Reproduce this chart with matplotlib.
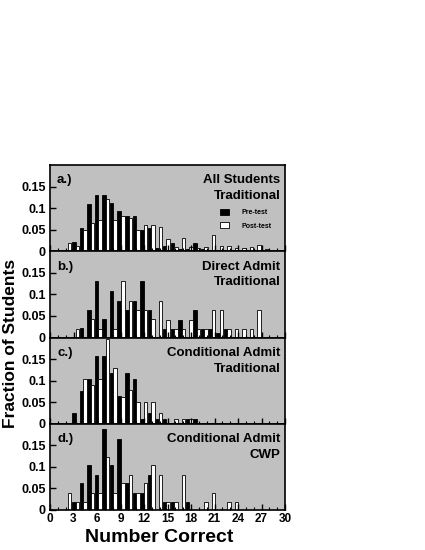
import numpy as np
import matplotlib.pyplot as plt
from matplotlib.ticker import MultipleLocator, FuncFormatter

plt.rcParams['font.family'] = ['Liberation Sans', 'DejaVu Sans']
plt.rcParams['font.weight'] = 'bold'

scores = np.arange(31)

# fraction of students with each number correct (0..30)
pre_a = [0, 0, 0, 0.022, 0.055, 0.11, 0.13, 0.13, 0.113, 0.093, 0.081, 0.081, 0.05, 0.055, 0.008, 0.013,
         0.02, 0.005, 0.005, 0.02, 0.005, 0.003, 0.003, 0, 0.002, 0, 0, 0, 0, 0, 0]
post_a = [0, 0, 0.02, 0.012, 0.05, 0.066, 0.072, 0.12, 0.072, 0.081, 0.077, 0.049, 0.061, 0.06, 0.056, 0.028,
          0.01, 0.03, 0.01, 0.008, 0.01, 0.037, 0.013, 0.012, 0.008, 0.008, 0.01, 0.015, 0.005, 0, 0]

pre_b = [0, 0, 0, 0, 0.021, 0.063, 0.13, 0.042, 0.107, 0.085, 0.063, 0.085, 0.13, 0.063, 0, 0.02,
         0.02, 0.041, 0, 0.063, 0.02, 0.02, 0.01, 0.02, 0, 0, 0, 0, 0, 0, 0]
post_b = [0, 0, 0, 0.02, 0, 0.042, 0.02, 0, 0.02, 0.13, 0.085, 0.063, 0.063, 0.042, 0.085, 0.041,
          0.02, 0.02, 0.041, 0.02, 0.02, 0.063, 0.063, 0.02, 0.02, 0.02, 0.02, 0.063, 0, 0, 0]

pre_c = [0, 0, 0, 0.025, 0.077, 0.104, 0.158, 0.158, 0.118, 0.065, 0.118, 0.104, 0.012, 0.025, 0.012, 0.012,
         0, 0, 0.012, 0.012, 0, 0, 0, 0, 0, 0, 0, 0, 0, 0, 0]
post_c = [0, 0, 0, 0, 0.104, 0.091, 0.104, 0.197, 0.13, 0.063, 0.079, 0.051, 0.051, 0.051, 0.024, 0,
          0.012, 0.012, 0.012, 0, 0, 0, 0, 0, 0, 0, 0, 0, 0, 0, 0]

pre_d = [0, 0, 0, 0.019, 0.062, 0.104, 0.082, 0.187, 0.104, 0.165, 0.062, 0.04, 0.04, 0.082, 0, 0.019,
         0.019, 0, 0.019, 0, 0, 0, 0, 0, 0, 0, 0, 0, 0, 0, 0]
post_d = [0, 0, 0.04, 0.019, 0.019, 0.04, 0.04, 0.123, 0.04, 0.062, 0.082, 0.04, 0.062, 0.104, 0.082, 0.019,
          0.019, 0.082, 0, 0, 0.019, 0.04, 0, 0.019, 0.019, 0, 0, 0, 0, 0, 0]

panels = [
    ('a.)', 'All Students\nTraditional', pre_a, post_a),
    ('b.)', 'Direct Admit\nTraditional', pre_b, post_b),
    ('c.)', 'Conditional Admit\nTraditional', pre_c, post_c),
    ('d.)', 'Conditional Admit\nCWP', pre_d, post_d),
]

fig = plt.figure(figsize=(4.25, 5.5), dpi=100)
W, H = 425.0, 550.0
left, right, top, bottom = 50, 285, 165, 510
ph = (bottom - top) / 4.0

pos = scores * 30 / 31.0
bw = 0.45
yfmt = FuncFormatter(lambda v, p: '0' if abs(v) < 1e-9 else '%g' % v)

for i, (letter, title, pre, post) in enumerate(panels):
    ax = fig.add_axes([left / W, 1 - (top + (i + 1) * ph) / H, (right - left) / W, ph / H])
    ax.set_facecolor('#c0c0c0')
    b1 = ax.bar(pos - 0.095, pre, bw, align='edge', color='black', edgecolor='black', linewidth=0.6)
    b2 = ax.bar(pos + 0.355, post, bw, align='edge', color='white', edgecolor='black', linewidth=0.6)
    ax.set_xlim(0, 30)
    ax.set_ylim(0, 0.2)
    ax.xaxis.set_major_locator(MultipleLocator(3))
    ax.xaxis.set_minor_locator(MultipleLocator(1))
    ax.set_yticks([0, 0.05, 0.1, 0.15])
    ax.yaxis.set_major_formatter(yfmt)
    ax.tick_params(axis='both', which='major', direction='in', length=4, width=1, labelsize=9, pad=3)
    ax.tick_params(axis='x', which='major', labelsize=8.5, pad=2.5)
    ax.tick_params(axis='x', which='minor', direction='in', length=2.5, width=0.8)
    for sp in ax.spines.values():
        sp.set_linewidth(1.2)
    if i < 3:
        ax.tick_params(axis='x', labelbottom=False)
    for lab in ax.get_xticklabels() + ax.get_yticklabels():
        lab.set_fontweight('bold')
    ax.text(0.03, 0.89, letter, transform=ax.transAxes, ha='left', va='top', fontsize=9.5, fontweight='bold')
    ax.text(0.98, 0.89, title, transform=ax.transAxes, ha='right', va='top', fontsize=9.5,
            fontweight='bold', linespacing=1.4)
    if i == 0:
        ax.legend([b1, b2], ['Pre-test', 'Post-test'], loc='upper left', bbox_to_anchor=(0.71, 0.525),
                  frameon=False, prop={'size': 5, 'weight': 'bold'}, handlelength=1.35,
                  handleheight=1.0, handletextpad=1.8, labelspacing=0.85, borderaxespad=0)

fig.text(10.5 / W, 1 - 343 / H, 'Fraction of Students', rotation=90, ha='center', va='center',
         fontsize=12.5, fontweight='bold')
fig.text(159 / W, 1 - 542 / H, 'Number Correct', ha='center', va='baseline', fontsize=14, fontweight='bold')

fig.savefig('out.png', dpi=100)
